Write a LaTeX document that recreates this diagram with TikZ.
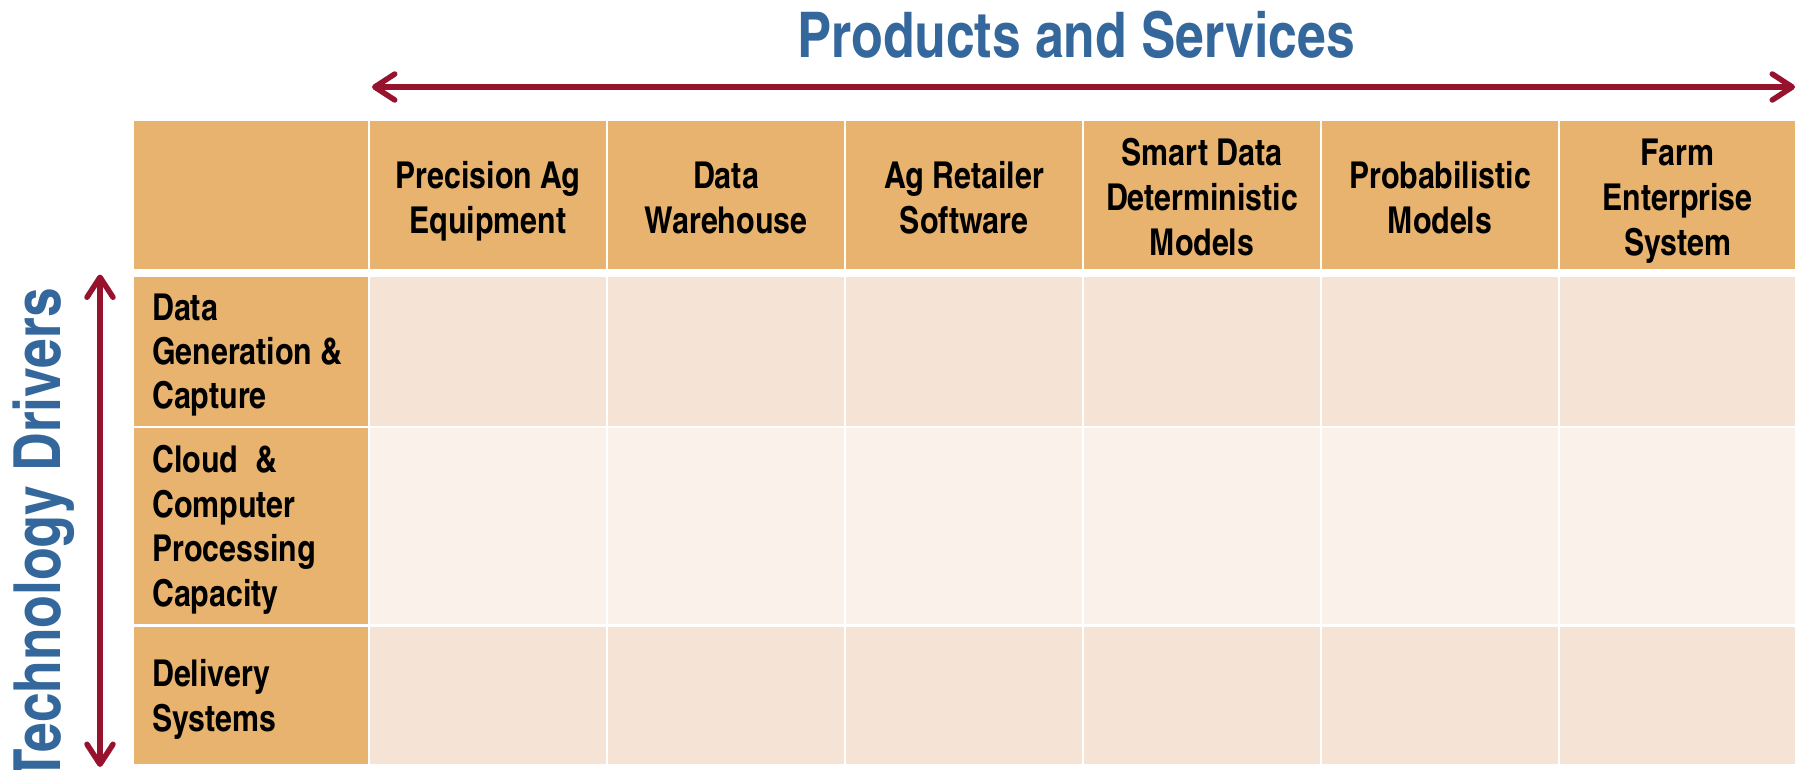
\documentclass[tikz,border=0pt]{standalone}
\usepackage{fontspec}
\usetikzlibrary{arrows.meta}
\newfontfamily\cnb{texgyreheroscn-bold}[Extension=.otf]
\definecolor{hdr}{HTML}{E8B36E}
\definecolor{cellA}{HTML}{F5E4D5}
\definecolor{cellB}{HTML}{FAF1EA}
\definecolor{arr}{HTML}{96122D}
\definecolor{ttl}{HTML}{34679B}
\begin{document}
\begin{tikzpicture}[x=1pt,y=-1pt,
  hdrtext/.style={anchor=north, inner sep=0pt, align=center, font=\cnb\fontsize{37}{45}\selectfont},
  rowtext/.style={anchor=north west, inner sep=0pt, align=left, font=\cnb\fontsize{37}{44.4}\selectfont},
  dbl/.style={draw=arr, line width=5.5pt,
    {Straight Barb[length=20pt,width=26pt,round]}-{Straight Barb[length=20pt,width=26pt,round]}},
]
\useasboundingbox (0,0) rectangle (1803,769);
% cell backgrounds
\foreach \l/\r in {133.5/367.8, 370.2/605.8, 608.2/843.8, 846.2/1081.8, 1084.2/1319.8, 1322.2/1557.8, 1560.2/1795}{
  \fill[hdr] (\l,121) rectangle (\r,269);
  \fill[cellA] (\l,277) rectangle (\r,425.7);
  \fill[cellB] (\l,428.3) rectangle (\r,624);
  \fill[cellA] (\l,626.7) rectangle (\r,764);
}
\fill[hdr] (133.5,277) rectangle (367.8,425.7);
\fill[hdr] (133.5,428.3) rectangle (367.8,624);
\fill[hdr] (133.5,626.7) rectangle (367.8,764);
% header texts
\node[hdrtext] (h1) at (488,156.5) {\strut Precision Ag\\Equipment};
\node[hdrtext] (h2) at (726,156.5) {\strut Data\\Warehouse};
\node[hdrtext] (h3) at (964,156.5) {\strut Ag Retailer\\Software};
\node[hdrtext] (h4) at (1202,133.5) {\strut Smart Data\\Deterministic\\Models};
\node[hdrtext] (h5) at (1440,156.5) {\strut Probabilistic\\Models};
\node[hdrtext] (h6) at (1677.6,133.5) {\strut Farm\\Enterprise\\System};
% row texts
\node[rowtext] (r1) at (152,288.9) {\strut Data\\Generation \&\\Capture};
\node[rowtext] (r2) at (152,441.6) {\strut Cloud\ \ \&\\Computer\\Processing\\Capacity};
\node[rowtext] (r3) at (152,655.6) {\strut Delivery\\Systems};
% titles
\node[font=\cnb\fontsize{63}{70}\selectfont, text=ttl, anchor=base, inner sep=0pt] (title) at (1076,57) {Products and Services};
\node[font=\cnb\fontsize{65}{70}\selectfont, text=ttl, rotate=90, anchor=base east, inner sep=0pt] (side) at (60,288) {Technology Drivers};
% arrows
\coordinate (hl) at (372,87);
\coordinate (hr) at (1795,87);
\coordinate (vt) at (100,274.5);
\coordinate (vb) at (100,767);
\draw[dbl] (hl) -- (hr);
\draw[dbl] (vt) -- (vb);
\end{tikzpicture}
\end{document}
